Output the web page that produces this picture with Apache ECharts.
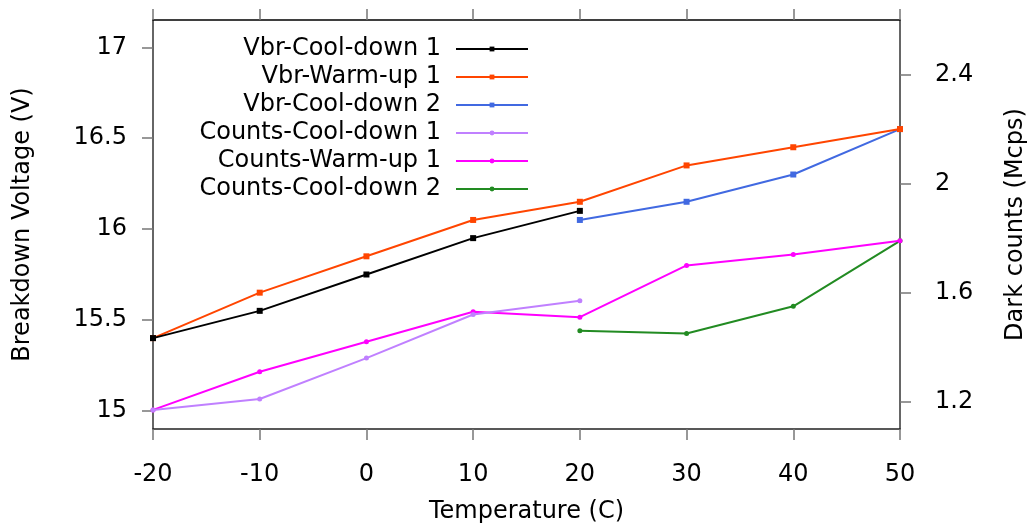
<!DOCTYPE html>
<html>
<head>
<meta charset="utf-8">
<script src="https://cdn.jsdelivr.net/npm/echarts@6/dist/echarts.min.js"></script>
<style>
html,body{margin:0;padding:0;background:#fff;}
#c{width:1028px;height:523px;}
</style>
</head>
<body>
<div id="c"></div>
<script>
// Data
const tempCool1 = [-20, -10, 0, 10, 20];
const tempWarm1 = [-20, -10, 0, 10, 20, 30, 40, 50];
const tempCool2 = [20, 30, 40, 50];

const vbrCool1 = [15.40, 15.55, 15.75, 15.95, 16.10];
const vbrWarm1 = [15.40, 15.65, 15.85, 16.05, 16.15, 16.35, 16.45, 16.55];
const vbrCool2 = [16.05, 16.15, 16.30, 16.55];

const countsCool1 = [1.17, 1.21, 1.36, 1.52, 1.57];
const countsWarm1 = [1.17, 1.31, 1.42, 1.53, 1.51, 1.70, 1.74, 1.79];
const countsCool2 = [1.46, 1.45, 1.55, 1.79];

const leftTicks = [15, 15.5, 16, 16.5, 17];
const rightTicks = [1.2, 1.6, 2, 2.4];

const seriesNames = ['Vbr-Cool-down 1', 'Vbr-Warm-up 1', 'Vbr-Cool-down 2',
  'Counts-Cool-down 1', 'Counts-Warm-up 1', 'Counts-Cool-down 2'];
const colors = ['#000000', '#ff4500', '#4169e1', '#c080ff', '#ff00ff', '#228b22'];

function pairs(xs, ys) { return xs.map((x, i) => [x, ys[i]]); }

const FONT = 'DejaVu Sans';
const chart = echarts.init(document.getElementById('c'), null, {renderer: 'canvas'});

const mk = (i, xs, ys, yIdx, sym, size) => ({
  name: seriesNames[i],
  type: 'line',
  xAxisIndex: 0,
  yAxisIndex: yIdx,
  data: pairs(xs, ys),
  symbol: sym,
  symbolSize: size,
  showSymbol: true,
  color: colors[i],
  lineStyle: {width: 2, color: colors[i]},
  itemStyle: {color: colors[i]},
  animation: false,
  z: 10 - i
});

chart.setOption({
  animation: false,
  backgroundColor: '#fff',
  textStyle: {fontFamily: FONT},
  grid: {left: 153, right: 128, top: 20, bottom: 94, containLabel: false, outerBoundsMode: 'none'},
  legend: {
    orient: 'vertical',
    right: 494,
    top: 32,
    align: 'right',
    itemWidth: 72,
    itemHeight: 6,
    itemGap: 4,
    data: seriesNames,
    textStyle: {fontFamily: FONT, fontSize: 24, lineHeight: 24, color: '#000', padding: [0, 10, 0, 0]}
  },
  xAxis: [{
    type: 'value',
    min: -20, max: 50, interval: 10,
    position: 'bottom',
    name: 'Temperature (C)',
    nameLocation: 'middle',
    nameGap: 71,
    nameTextStyle: {fontFamily: FONT, fontSize: 24, color: '#000'},
    axisLine: {show: true, onZero: false, lineStyle: {color: '#222', width: 1.5}},
    axisTick: {show: true, inside: false, length: 11, lineStyle: {color: '#777', width: 1.5}},
    axisLabel: {fontFamily: FONT, fontSize: 24, color: '#000', margin: 34},
    splitLine: {show: false}
  }, {
    type: 'value',
    min: -20, max: 50, interval: 10,
    position: 'top',
    axisLine: {show: true, onZero: false, lineStyle: {color: '#000', width: 1.5}},
    axisTick: {show: true, inside: false, length: 11, lineStyle: {color: '#777', width: 1.5}},
    axisLabel: {show: false},
    splitLine: {show: false}
  }],
  yAxis: [{
    type: 'value',
    min: 14.9, max: 17.15,
    position: 'left',
    name: 'Breakdown Voltage (V)',
    nameLocation: 'middle',
    nameGap: 118,
    nameRotate: 90,
    nameTextStyle: {fontFamily: FONT, fontSize: 24, color: '#000'},
    axisLine: {show: true, onZero: false, lineStyle: {color: '#333', width: 1.5}},
    axisTick: {show: true, inside: false, length: 11, customValues: leftTicks, lineStyle: {color: '#777', width: 1.5}},
    axisLabel: {fontFamily: FONT, fontSize: 24, color: '#000', margin: 26, customValues: leftTicks},
    splitLine: {show: false}
  }, {
    type: 'value',
    min: 1.1, max: 2.6,
    position: 'right',
    name: 'Dark counts (Mcps)',
    nameLocation: 'middle',
    nameGap: 104,
    nameRotate: 90,
    nameTextStyle: {fontFamily: FONT, fontSize: 24, color: '#000'},
    axisLine: {show: true, onZero: false, lineStyle: {color: '#333', width: 1.5}},
    axisTick: {show: true, inside: false, length: 11, customValues: rightTicks, lineStyle: {color: '#777', width: 1.5}},
    axisLabel: {fontFamily: FONT, fontSize: 24, color: '#000', margin: 35, customValues: rightTicks,
      formatter: v => String(Math.round(v * 10) / 10)},
    splitLine: {show: false}
  }],
  series: [
    mk(0, tempCool1, vbrCool1, 0, 'rect', 6),
    mk(1, tempWarm1, vbrWarm1, 0, 'rect', 6),
    mk(2, tempCool2, vbrCool2, 0, 'rect', 6),
    mk(3, tempCool1, countsCool1, 1, 'circle', 5),
    mk(4, tempWarm1, countsWarm1, 1, 'circle', 5),
    mk(5, tempCool2, countsCool2, 1, 'circle', 5)
  ]
});
</script>
</body>
</html>
